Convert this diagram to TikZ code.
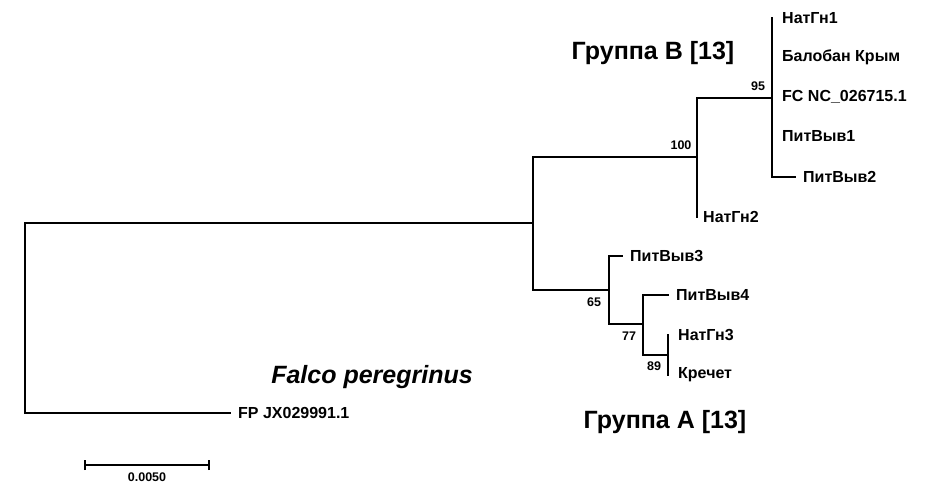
\documentclass[tikz,border=0pt]{standalone}
\usepackage{fontspec}
\setmainfont{Liberation Sans}
\begin{document}
\begin{tikzpicture}[x=1pt,y=-1pt,
  branch/.style={line width=1.7pt, line cap=rect},
  leaf/.style={anchor=west, inner xsep=8pt, inner ysep=0pt, font=\fontsize{16}{16}\selectfont\bfseries},
  support/.style={inner sep=0pt, font=\fontsize{12.5}{12.5}\selectfont\bfseries},
  grouptitle/.style={inner sep=0pt, font=\fontsize{25}{25}\selectfont\bfseries}]
\useasboundingbox[fill=white] (0,0) rectangle (927,483);

% internal nodes
\coordinate (root) at (25,318);
\coordinate (nIn)  at (533,223);
\coordinate (nB)   at (697,157);
\coordinate (nB2)  at (772,98);
\coordinate (nA)   at (609,290);
\coordinate (nA2)  at (643,324);
\coordinate (nA3)  at (668,355);

% leaves
\node[leaf, inner xsep=10pt] (l1) at (772,18)  {НатГн1};
\node[leaf, inner xsep=10pt] (l2) at (772,57)  {Балобан Крым};
\node[leaf, inner xsep=10pt] (l3) at (772,97)  {FC NC\_026715.1};
\node[leaf, inner xsep=10pt] (l4) at (772,136) {ПитВыв1};
\node[leaf] (l5) at (795,177) {ПитВыв2};
\node[leaf, inner xsep=6pt] (ng2) at (697,217) {НатГн2};
\node[leaf] (pv3) at (622,256) {ПитВыв3};
\node[leaf] (pv4) at (668,295) {ПитВыв4};
\node[leaf, inner xsep=10pt] (ng3) at (668,335) {НатГн3};
\node[leaf, inner xsep=10pt] (kr) at (668,375) {Кречет};
\node[leaf] (fp) at (230,413) {FP JX029991.1};

% branches
\draw[branch] (root) |- (nIn);
\draw[branch] (root) |- (fp.west);
\draw[branch] (nIn) |- (nB);
\draw[branch] (nIn) |- (nA);
\draw[branch] (nB) |- (nB2);
\draw[branch] (nB) |- (ng2.west);
\draw[branch] (nB2) |- (l1.west);
\draw[branch] (nB2) |- (l5.west);
\draw[branch] (nA) |- (pv3.west);
\draw[branch] (nA) |- (nA2);
\draw[branch] (nA2) |- (pv4.west);
\draw[branch] (nA2) |- (nA3);
\draw[branch] (nA3) |- (ng3.west);
\draw[branch] (nA3) |- (kr.west);

% bootstrap values
\node[support] (s100) at (681,145) {100};
\node[support] (s95)  at (758,86)  {95};
\node[support] (s65)  at (594,302) {65};
\node[support] (s77)  at (629,336) {77};
\node[support] (s89)  at (654,366) {89};

% group titles
\node[grouptitle] (gB) at (653,53) {Группа B [13]};
\node[grouptitle] (gA) at (665,422) {Группа A [13]};
\node[grouptitle, font=\fontsize{25}{25}\selectfont\bfseries\itshape] (fal) at (372,377) {Falco peregrinus};

% scale bar
\coordinate (sb1) at (85,465);
\coordinate (sb2) at (209,465);
\draw[line width=1.7pt] (sb1) -- (sb2);
\draw[line width=1.7pt] ([yshift=-5pt]sb1) -- ([yshift=5pt]sb1);
\draw[line width=1.7pt] ([yshift=-5pt]sb2) -- ([yshift=5pt]sb2);
\node[support] (sbl) at (147,477) {0.0050};
\end{tikzpicture}
\end{document}
